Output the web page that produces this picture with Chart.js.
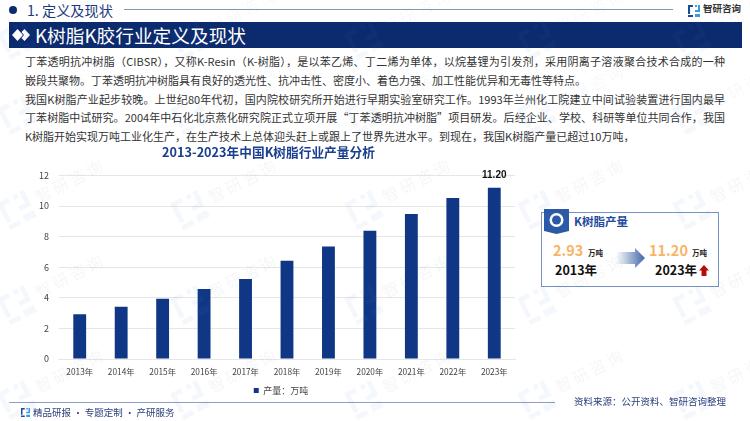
<!DOCTYPE html>
<html>
<head>
<meta charset="utf-8">
<script src="https://cdn.jsdelivr.net/npm/chart.js@4/dist/chart.umd.min.js"></script>
<style>
html, body { margin: 0; padding: 0; background: #fff; }
body { width: 750px; height: 421px; overflow: hidden; position: relative; font-family: "Noto Sans CJK SC", sans-serif; }
.abs { position: absolute; white-space: nowrap; line-height: 1; }
.body-line { position: absolute; left: 25px; font-size: 11px; line-height: 14px; color: #333; white-space: nowrap; }
.full { width: 700px; white-space: normal; text-align: justify; text-align-last: justify; height: 14px; overflow: hidden; }
#chartBox { position: absolute; left: 0; top: 160px; width: 562px; height: 245px; }
.mark { position: absolute; font-size: 16px; letter-spacing: 3px; color: rgba(60, 80, 110, 0.05); transform: rotate(-27deg); white-space: nowrap; line-height: 1; pointer-events: none; }
.mark-logo { position: absolute; transform: rotate(-27deg); pointer-events: none; }
</style>
</head>
<body>
<div id="chartBox"><canvas id="c"></canvas></div>

<!-- top bar -->
<div class="abs" style="left:9px;top:6px;width:8px;height:8px;border-radius:50%;background:#0c2a6e"></div>
<div class="abs" style="left:27px;top:3px;font-size:14.2px;color:#1d3a7c">1. 定义及现状</div>
<div class="abs" style="left:124px;top:9px;width:549px;height:1px;background:#8096c0"></div>
<svg class="abs" style="left:688px;top:5px" width="12" height="12" viewBox="0 0 12 12">
  <path d="M0 0H5V2H2V9H0Z M0 10H5V12H0Z" fill="#1c4a9c"/>
  <path d="M7 0H9V2H7Z M10 0H12V7H7V5H10Z M7 9H12V12H7Z" fill="#3b9ae0"/>
</svg>
<div class="abs" style="left:703px;top:4px;font-size:9.5px;font-weight:700;color:#333">智研咨询</div>

<!-- title band -->
<div class="abs" style="left:9px;top:22px;width:733px;height:26px;background:#0c2a6e"></div>
<svg class="abs" style="left:12px;top:29px" width="18" height="12" viewBox="0 0 18 12">
  <path d="M5.5 0L11 6L5.5 12L0 6Z M12.5 0L18 6L12.5 12L9.5 9L12 6L9.5 3Z" fill="#fff"/>
</svg>
<div class="abs" style="left:35px;top:26px;font-size:18.7px;color:#fff">K树脂K胶行业定义及现状</div>

<!-- paragraph -->
<div class="body-line full" style="top:54px">丁苯透明抗冲树脂（CIBSR），又称K-Resin（K-树脂），是以苯乙烯、丁二烯为单体，以烷基锂为引发剂，采用阴离子溶液聚合技术合成的一种</div>
<div class="body-line" style="top:73px">嵌段共聚物。丁苯透明抗冲树脂具有良好的透光性、抗冲击性、密度小、着色力强、加工性能优异和无毒性等特点。</div>
<div class="body-line full" style="top:92px">我国K树脂产业起步较晚。上世纪80年代初，国内院校研究所开始进行早期实验室研究工作。1993年兰州化工院建立中间试验装置进行国内最早</div>
<div class="body-line full" style="top:110px">丁苯树脂中试研究。2004年中石化北京燕化研究院正式立项开展“丁苯透明抗冲树脂”项目研发。后经企业、学校、科研等单位共同合作，我国</div>
<div class="body-line" style="top:129px">K树脂开始实现万吨工业化生产，在生产技术上总体迎头赶上或跟上了世界先进水平。到现在，我国K树脂产量已超过10万吨，</div>

<div class="abs" style="left:162px;top:146px;font-size:12.7px;font-weight:700;color:#1b3f8f">2013-2023年中国K树脂行业产量分析</div>

<!-- side card -->
<div class="abs" style="left:541px;top:212px;width:176px;height:73px;border:1px solid #7592c6;background:#fff"></div>
<svg class="abs" style="left:544px;top:209px" width="25" height="25" viewBox="0 0 25 25">
  <path d="M0 0H25V22L12.5 25L0 22Z" fill="#2c59a6"/>
  <circle cx="12.5" cy="11" r="7" fill="#fff"/>
  <circle cx="12.5" cy="11" r="4.5" fill="#2c59a6"/>
</svg>
<div class="abs" style="left:574px;top:216px;font-size:11.5px;font-weight:700;color:#1f4c9c">K树脂产量</div>
<div class="abs" style="left:553px;top:243px;font-size:14.5px;font-weight:700;color:#f9b565">2.93</div>
<div class="abs" style="left:588px;top:249px;font-size:7.5px;font-weight:700;color:#222">万吨</div>
<div class="abs" style="left:555px;top:264px;font-size:12.5px;font-weight:700;color:#111">2013年</div>
<svg class="abs" style="left:616px;top:248px" width="29" height="20" viewBox="0 0 29 20">
  <defs><linearGradient id="g" x1="0" x2="1" y1="0" y2="0"><stop offset="0" stop-color="#fff"/><stop offset="1" stop-color="#3f66a8"/></linearGradient></defs>
  <path d="M0 4H19V0L29 10L19 20V16H0Z" fill="url(#g)"/>
</svg>
<div class="abs" style="left:649px;top:243px;font-size:14.5px;font-weight:700;color:#f9b565">11.20</div>
<div class="abs" style="left:692px;top:249px;font-size:7.5px;font-weight:700;color:#222">万吨</div>
<div class="abs" style="left:655px;top:264px;font-size:12.5px;font-weight:700;color:#111">2023年</div>
<svg class="abs" style="left:699px;top:265px" width="10" height="11" viewBox="0 0 10 11">
  <path d="M5 0L10 5.5H7.5V11H2.5V5.5H0Z" fill="#b30d0d"/>
</svg>

<!-- footer -->
<div class="abs" style="left:9px;top:402px;width:546px;height:1px;background:#8c9fc6"></div>
<svg class="abs" style="left:21px;top:408px" width="9" height="9" viewBox="0 0 12 12">
  <path d="M0 0H5V2H2V9H0Z M0 10H5V12H0Z" fill="#1c4a9c"/>
  <path d="M7 0H9V2H7Z M10 0H12V7H7V5H10Z M7 9H12V12H7Z" fill="#3b9ae0"/>
</svg>
<div class="abs" style="left:33px;top:408px;font-size:9.5px;color:#2b3f7a">精品研报 · 专题定制 · 产研服务</div>
<div class="abs" style="left:574px;top:397px;font-size:9.5px;color:#2b3f7a">资料来源：公开资料、智研咨询整理</div>

<script>
const years = ['2013年', '2014年', '2015年', '2016年', '2017年', '2018年', '2019年', '2020年', '2021年', '2022年', '2023年'];
const output = [2.93, 3.42, 3.94, 4.57, 5.23, 6.42, 7.35, 8.38, 9.48, 10.52, 11.20];
const labelled = ['2023年'];

const markX = [70, 243, 417, 590, 745];
const markY = [10, 85, 180, 275, 370];

markY.forEach(y => markX.forEach(x => {
    const m = document.createElement('div');
    m.className = 'mark';
    m.textContent = '智研咨询';
    m.style.left = (x - 38) + 'px';
    m.style.top = (y - 8) + 'px';
    document.body.appendChild(m);

    const logo = document.createElementNS('http://www.w3.org/2000/svg', 'svg');
    logo.setAttribute('class', 'mark-logo');
    logo.setAttribute('width', '30');
    logo.setAttribute('height', '30');
    logo.setAttribute('viewBox', '0 0 12 12');
    logo.style.left = (x - 68) + 'px';
    logo.style.top = (y + 15) + 'px';
    logo.innerHTML = '<path d="M0 0H5V2H2V9H0Z M0 10H5V12H0Z M7 0H9V2H7Z M10 0H12V7H7V5H10Z M7 9H12V12H7Z" fill="rgba(60,140,220,0.06)"/>';
    document.body.appendChild(logo);
}));

// only the last bar carries a value label in the picture
const lastLabel = {
    id: 'lastLabel',
    afterDatasetsDraw(chart) {
        const ctx = chart.ctx;
        const meta = chart.getDatasetMeta(0);
        ctx.save();
        ctx.font = '700 10px "Liberation Sans"';
        ctx.fillStyle = '#111';
        ctx.textAlign = 'center';
        ctx.textBaseline = 'middle';
        meta.data.forEach((bar, i) => {
            if (labelled.includes(years[i])) {
                ctx.fillText(output[i].toFixed(2), bar.x, bar.y - 12);
            }
        });
        ctx.restore();
    }
};

// legend sits a bit right of the padded box centre
const nudgeLegend = {
    id: 'nudgeLegend',
    afterLayout(chart) {
        chart.legend.left += 9;
        chart.legend.right += 9;
    }
};

new Chart(document.getElementById('c'), {
    type: 'bar',
    data: {
        labels: years,
        datasets: [{
            label: '产量：万吨',
            data: output,
            backgroundColor: '#0f3785',
            barPercentage: 0.31,
            categoryPercentage: 1
        }]
    },
    options: {
        responsive: true,
        maintainAspectRatio: false,
        animation: false,
        layout: { padding: { left: 29, right: 47, top: 4, bottom: 0 } },
        plugins: {
            legend: {
                position: 'bottom',
                labels: {
                    color: '#444',
                    font: { size: 9, family: '"Noto Sans CJK SC"' },
                    usePointStyle: true,
                    pointStyle: 'rect',
                    boxWidth: 5,
                    boxHeight: 5,
                    padding: 1
                }
            },
            tooltip: { enabled: false }
        },
        scales: {
            x: {
                grid: { display: false, drawTicks: false },
                border: { color: '#e6e6e6' },
                ticks: { color: '#444', font: { size: 8.3, family: '"Noto Sans CJK SC"' }, maxRotation: 0, autoSkip: false, padding: 8 }
            },
            y: {
                min: 0,
                max: 12,
                ticks: { stepSize: 2, color: '#444', font: { size: 9, family: '"Noto Sans CJK SC"' }, padding: 10 },
                grid: { color: '#e6e6e6', drawTicks: false },
                border: { display: false }
            }
        }
    },
    plugins: [lastLabel, nudgeLegend]
});
</script>
</body>
</html>
